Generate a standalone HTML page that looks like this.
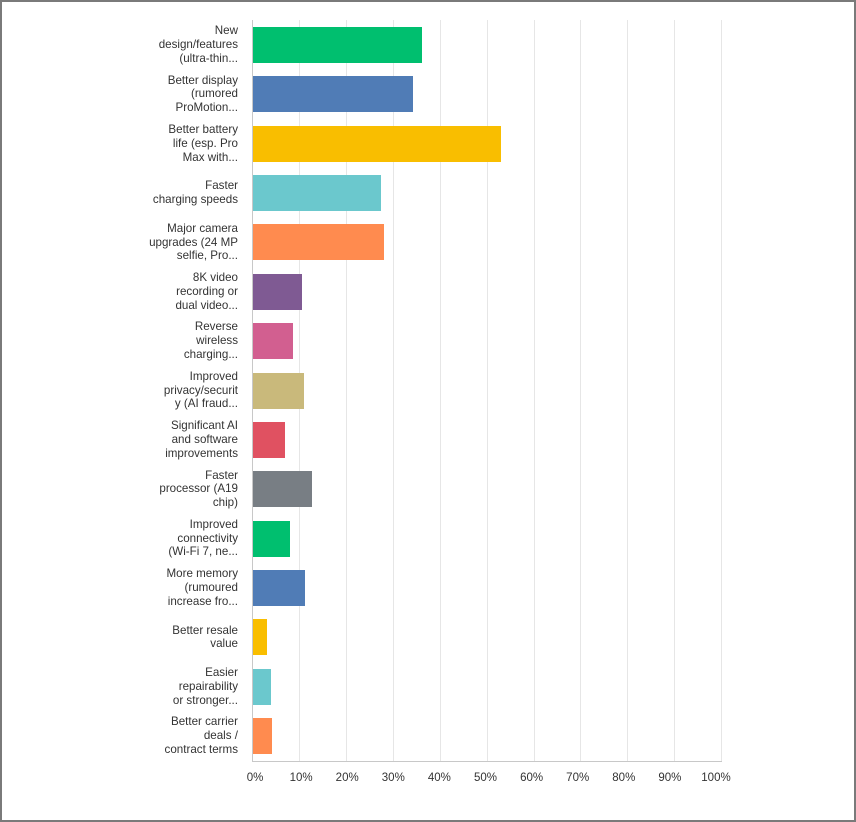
<!DOCTYPE html>
<html><head><style>
body{margin:0;width:856px;height:822px;background:#fff;position:relative;overflow:hidden;font-family:"Liberation Sans",sans-serif;}
.frame{position:absolute;left:0;top:0;width:852px;height:818px;border:2px solid #7a7a7a;}
.g{position:absolute;top:20px;height:741px;width:1px;background:#e6e6e6;}
.bar{position:absolute;left:253px;height:36px;}
.lab{position:absolute;right:618px;width:120px;text-align:right;font-size:11.6px;line-height:13.8px;color:#333;}
.t{position:absolute;top:772px;width:40px;margin-left:-20px;text-align:center;font-size:11.5px;color:#333;}
</style></head><body>
<div class="frame"></div>
<div id="c"></div>
<script>
var c=document.getElementById('c');var h='';
for(var i=1;i<=10;i++){h+='<div class="g" style="left:'+(252.5+46.85*i)+'px"></div>';}
h+='<div style="position:absolute;left:252px;top:20px;width:1px;height:742px;background:#c8c8c8"></div>';
h+='<div style="position:absolute;left:252px;top:761px;width:470px;height:1px;background:#c8c8c8"></div>';
var d=[["New<br>design/features<br>(ultra-thin...",36.1,"#00bf6f"],
["Better display<br>(rumored<br>ProMotion...",34.2,"#507cb6"],
["Better battery<br>life (esp. Pro<br>Max with...",53,"#f9be00"],
["Faster<br>charging speeds",27.4,"#6bc8cd"],
["Major camera<br>upgrades (24 MP<br>selfie, Pro...",28,"#ff8b4f"],
["8K video<br>recording or<br>dual video...",10.5,"#7f5a93"],
["Reverse<br>wireless<br>charging...",8.6,"#d25f90"],
["Improved<br>privacy/securit<br>y (AI fraud...",10.9,"#c9b97b"],
["Significant AI<br>and software<br>improvements",6.9,"#e05161"],
["Faster<br>processor (A19<br>chip)",12.5,"#787e84"],
["Improved<br>connectivity<br>(Wi-Fi 7, ne...",7.9,"#00bf6f"],
["More memory<br>(rumoured<br>increase fro...",11.1,"#507cb6"],
["Better resale<br>value",3,"#f9be00"],
["Easier<br>repairability<br>or stronger...",3.8,"#6bc8cd"],
["Better carrier<br>deals /<br>contract terms",4.1,"#ff8b4f"]];
for(var i=0;i<d.length;i++){var y=27+49.36*i;var n=d[i][0].split('<br>').length;
h+='<div class="bar" style="top:'+y+'px;width:'+(d[i][1]*4.685)+'px;background:'+d[i][2]+'"></div>';
h+='<div class="lab" style="top:'+(y+18-n*6.9)+'px">'+d[i][0]+'</div>';}
for(var i=0;i<=10;i++){h+='<div class="t" style="left:'+(255+46.1*i)+'px">'+(i*10)+'%</div>';}
c.innerHTML=h;
</script>
</body></html>
